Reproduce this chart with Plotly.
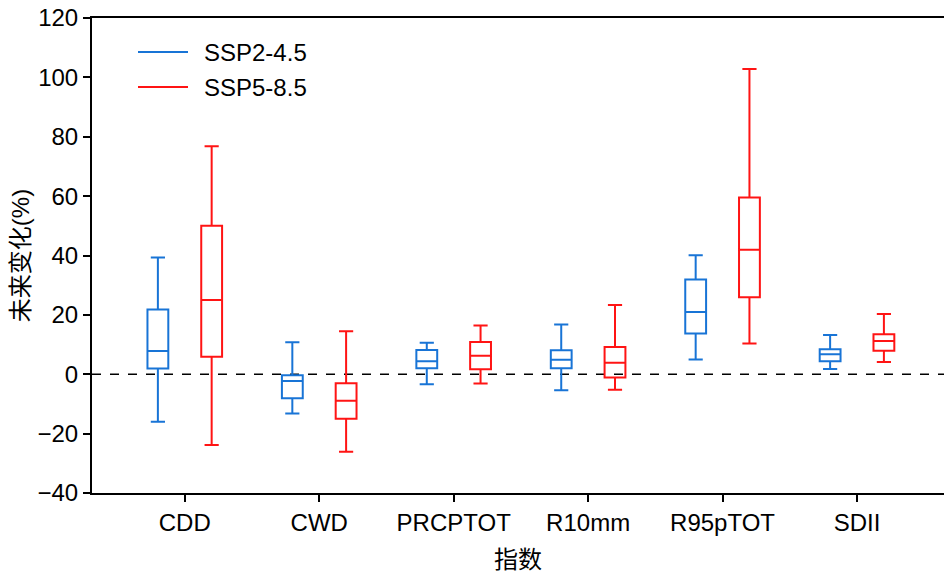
import plotly.graph_objects as go

categories = ["CDD", "CWD", "PRCPTOT", "R10mm", "R95pTOT", "SDII"]
series_names = ["SSP2-4.5", "SSP5-8.5"]
colors = ["#1874D6", "#FF1414"]

# per series: lower whisker, q1, median, q3, upper whisker
ssp245_low = [-16.0, -13.2, -3.4, -5.4, 5.0, 1.8]
ssp245_q1 = [1.9, -8.1, 2.0, 2.0, 13.7, 4.4]
ssp245_med = [7.8, -2.3, 4.4, 4.9, 21.0, 6.7]
ssp245_q3 = [21.8, -0.3, 8.2, 8.1, 31.9, 8.4]
ssp245_high = [39.3, 10.8, 10.6, 16.8, 40.1, 13.2]

ssp585_low = [-23.8, -26.1, -3.1, -5.2, 10.4, 4.1]
ssp585_q1 = [5.9, -15.0, 1.7, -1.1, 25.9, 7.9]
ssp585_med = [25.0, -8.9, 6.2, 3.9, 41.9, 11.2]
ssp585_q3 = [50.0, -3.0, 10.9, 9.2, 59.5, 13.5]
ssp585_high = [76.8, 14.5, 16.4, 23.3, 102.8, 20.3]

data = [
    (ssp245_low, ssp245_q1, ssp245_med, ssp245_q3, ssp245_high),
    (ssp585_low, ssp585_q1, ssp585_med, ssp585_q3, ssp585_high),
]
offsets = [-0.2, 0.2]

FONT = "Liberation Sans, Arial, Noto Sans CJK SC, sans-serif"
W, H = 944, 574
ML, MR, MT, MB = 92, 0, 18, 81
PW, PH = W - ML - MR, H - MT - MB

fig = go.Figure()

for k, (lo, q1, med, q3, hi) in enumerate(data):
    xs = [i + offsets[k] for i in range(len(categories))]
    fig.add_trace(go.Box(
        x=xs, q1=q1, median=med, q3=q3, lowerfence=lo, upperfence=hi,
        width=0.155, whiskerwidth=0.68,
        line=dict(color=colors[k], width=2),
        fillcolor="rgba(255,255,255,0)",
        showlegend=False, hoverinfo="skip", boxpoints=False,
    ))

# manual legend (line sample + label), positioned in paper coordinates
for k, name in enumerate(series_names):
    ypix = 52 + 35 * k
    yp = 1 - (ypix - MT) / PH
    x0 = (138 - ML) / PW
    x1 = (188 - ML) / PW
    fig.add_shape(type="line", xref="paper", yref="paper", x0=x0, x1=x1, y0=yp, y1=yp,
                  line=dict(color=colors[k], width=2))
    fig.add_annotation(xref="paper", yref="paper", x=(202 - ML) / PW, y=yp,
                       xanchor="left", yanchor="middle", text=name, showarrow=False,
                       font=dict(size=24, family=FONT, color="black"))

fig.add_shape(type="line", xref="paper", x0=0, x1=1, yref="y", y0=0, y1=0,
              line=dict(color="black", width=1.6, dash="dash"), layer="below")

fig.update_layout(
    width=W, height=H,
    margin=dict(l=ML, r=MR, t=MT, b=MB),
    plot_bgcolor="white", paper_bgcolor="white",
    font=dict(family=FONT, size=24, color="black"),
    showlegend=False,
    xaxis=dict(
        range=[-0.69, 5.647],
        tickmode="array", tickvals=list(range(len(categories))), ticktext=categories,
        showline=True, linecolor="black", linewidth=2, mirror=True,
        ticks="outside", ticklen=7, tickwidth=1.5, tickcolor="black",
        showgrid=False, zeroline=False,
        title=dict(text="指数", font=dict(size=24), standoff=16),
    ),
    yaxis=dict(
        range=[-40, 120], tickmode="array", tickvals=list(range(-40, 121, 20)),
        showline=True, linecolor="black", linewidth=2,
        ticks="outside", ticklen=7, tickwidth=1.5, tickcolor="black",
        showgrid=False, zeroline=False,
        title=dict(text="未来变化(%)", font=dict(size=24), standoff=1),
    ),
)

fig.write_html("out.html")
